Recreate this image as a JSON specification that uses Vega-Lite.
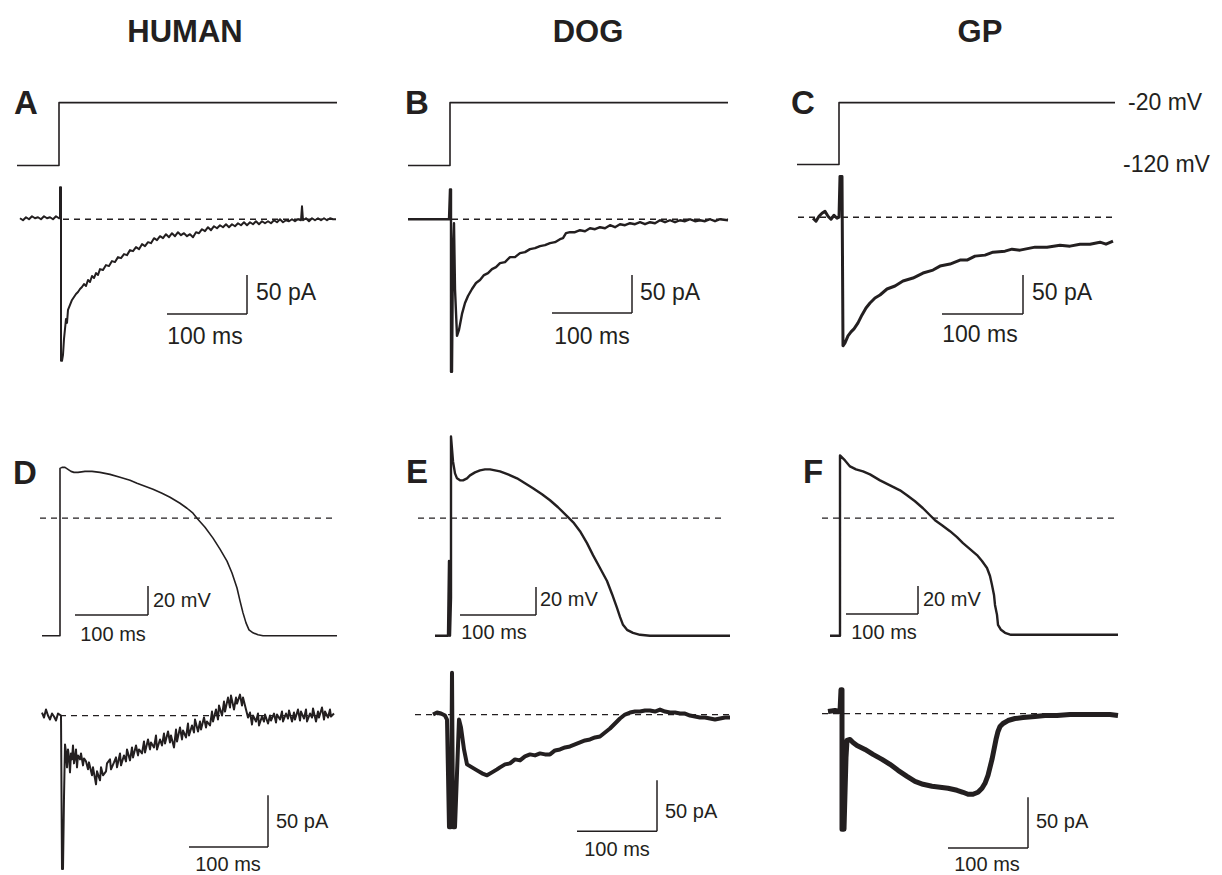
{
"$schema": "https://vega.github.io/schema/vega-lite/v6.json",
"width": 1222, "height": 875,
"autosize": {"type": "fit", "contains": "padding"},
"padding": 0,
"background": "white",
"config": {"view": {"stroke": null}, "text": {"font": "Liberation Sans", "color": "#231f20"}},
"datasets": {
"traces": [
{"trace":"A_V","x":17,"y":166},{"trace":"A_V","x":59,"y":166},{"trace":"A_V","x":59,"y":103},{"trace":"A_V","x":337,"y":103},
{"trace":"B_V","x":408,"y":166},{"trace":"B_V","x":450,"y":166},{"trace":"B_V","x":450,"y":103},{"trace":"B_V","x":728,"y":103},
{"trace":"C_V","x":797,"y":165},{"trace":"C_V","x":839,"y":165},{"trace":"C_V","x":839,"y":103},{"trace":"C_V","x":1115,"y":103},

{"trace":"A_I","x":20,"y":219},{"trace":"A_I","x":23,"y":221},{"trace":"A_I","x":26,"y":218},{"trace":"A_I","x":29,"y":220},{"trace":"A_I","x":32,"y":217},{"trace":"A_I","x":35,"y":219},{"trace":"A_I","x":38,"y":218},{"trace":"A_I","x":41,"y":220},{"trace":"A_I","x":44,"y":217},{"trace":"A_I","x":47,"y":219},{"trace":"A_I","x":50,"y":218},{"trace":"A_I","x":53,"y":220},{"trace":"A_I","x":56,"y":217},{"trace":"A_I","x":59,"y":219},
{"trace":"A_I","x":60,"y":219},{"trace":"A_I","x":60,"y":188},{"trace":"A_I","x":61,"y":188},{"trace":"A_I","x":61,"y":362},{"trace":"A_I","x":62,"y":362},{"trace":"A_I","x":63,"y":356},{"trace":"A_I","x":64,"y":340},{"trace":"A_I","x":65,"y":330},{"trace":"A_I","x":66,"y":320},{"trace":"A_I","x":67,"y":324},{"trace":"A_I","x":68,"y":311},
{"trace":"A_I","x":70,"y":306},{"trace":"A_I","x":72,"y":301},{"trace":"A_I","x":74,"y":298},{"trace":"A_I","x":76,"y":295},{"trace":"A_I","x":78,"y":293},{"trace":"A_I","x":80,"y":290},{"trace":"A_I","x":82,"y":288},{"trace":"A_I","x":84,"y":285},{"trace":"A_I","x":86,"y":287},{"trace":"A_I","x":88,"y":281},{"trace":"A_I","x":90,"y":283},{"trace":"A_I","x":92,"y":277},{"trace":"A_I","x":94,"y":279},{"trace":"A_I","x":96,"y":274},{"trace":"A_I","x":98,"y":276},{"trace":"A_I","x":100,"y":270},{"trace":"A_I","x":103,"y":271},{"trace":"A_I","x":106,"y":266},{"trace":"A_I","x":109,"y":267},{"trace":"A_I","x":112,"y":262},{"trace":"A_I","x":115,"y":263},{"trace":"A_I","x":118,"y":258},{"trace":"A_I","x":121,"y":259},{"trace":"A_I","x":124,"y":255},{"trace":"A_I","x":127,"y":256},{"trace":"A_I","x":130,"y":251},{"trace":"A_I","x":133,"y":252},{"trace":"A_I","x":136,"y":248},{"trace":"A_I","x":139,"y":250},{"trace":"A_I","x":142,"y":245},{"trace":"A_I","x":145,"y":247},{"trace":"A_I","x":148,"y":243},{"trace":"A_I","x":151,"y":244},{"trace":"A_I","x":154,"y":239},{"trace":"A_I","x":157,"y":241},{"trace":"A_I","x":160,"y":237},{"trace":"A_I","x":163,"y":239},{"trace":"A_I","x":166,"y":235},{"trace":"A_I","x":169,"y":238},{"trace":"A_I","x":172,"y":234},{"trace":"A_I","x":175,"y":237},{"trace":"A_I","x":178,"y":233},{"trace":"A_I","x":181,"y":236},{"trace":"A_I","x":184,"y":234},{"trace":"A_I","x":187,"y":237},{"trace":"A_I","x":190,"y":235},{"trace":"A_I","x":193,"y":238},{"trace":"A_I","x":196,"y":233},{"trace":"A_I","x":199,"y":234},{"trace":"A_I","x":202,"y":230},{"trace":"A_I","x":205,"y":232},{"trace":"A_I","x":208,"y":228},{"trace":"A_I","x":211,"y":231},{"trace":"A_I","x":214,"y":227},{"trace":"A_I","x":217,"y":229},{"trace":"A_I","x":220,"y":226},{"trace":"A_I","x":223,"y":228},{"trace":"A_I","x":226,"y":225},{"trace":"A_I","x":229,"y":228},{"trace":"A_I","x":232,"y":225},{"trace":"A_I","x":235,"y":227},{"trace":"A_I","x":238,"y":224},{"trace":"A_I","x":241,"y":226},{"trace":"A_I","x":244,"y":223},{"trace":"A_I","x":247,"y":226},{"trace":"A_I","x":250,"y":223},{"trace":"A_I","x":253,"y":225},{"trace":"A_I","x":256,"y":222},{"trace":"A_I","x":259,"y":225},{"trace":"A_I","x":262,"y":222},{"trace":"A_I","x":265,"y":224},{"trace":"A_I","x":268,"y":222},{"trace":"A_I","x":271,"y":224},{"trace":"A_I","x":274,"y":221},{"trace":"A_I","x":277,"y":223},{"trace":"A_I","x":280,"y":220},{"trace":"A_I","x":283,"y":223},{"trace":"A_I","x":286,"y":221},{"trace":"A_I","x":289,"y":222},{"trace":"A_I","x":292,"y":220},{"trace":"A_I","x":295,"y":222},{"trace":"A_I","x":298,"y":220},{"trace":"A_I","x":301,"y":221},{"trace":"A_I","x":302,"y":207},{"trace":"A_I","x":303,"y":221},{"trace":"A_I","x":306,"y":219},{"trace":"A_I","x":309,"y":222},{"trace":"A_I","x":312,"y":219},{"trace":"A_I","x":315,"y":221},{"trace":"A_I","x":318,"y":219},{"trace":"A_I","x":321,"y":221},{"trace":"A_I","x":324,"y":219},{"trace":"A_I","x":327,"y":221},{"trace":"A_I","x":330,"y":219},{"trace":"A_I","x":333,"y":220},{"trace":"A_I","x":336,"y":220},

{"trace":"B_I","x":408,"y":220},{"trace":"B_I","x":449,"y":220},{"trace":"B_I","x":450,"y":190},{"trace":"B_I","x":451,"y":190},{"trace":"B_I","x":451,"y":373},{"trace":"B_I","x":452,"y":373},{"trace":"B_I","x":453,"y":250},{"trace":"B_I","x":454,"y":224},{"trace":"B_I","x":455,"y":290},{"trace":"B_I","x":457,"y":337},{"trace":"B_I","x":459,"y":331},{"trace":"B_I","x":462,"y":315},{"trace":"B_I","x":465,"y":304},{"trace":"B_I","x":468,"y":297},{"trace":"B_I","x":472,"y":290},{"trace":"B_I","x":476,"y":284},{"trace":"B_I","x":480,"y":281},{"trace":"B_I","x":484,"y":276},{"trace":"B_I","x":488,"y":274},{"trace":"B_I","x":492,"y":270},{"trace":"B_I","x":496,"y":268},{"trace":"B_I","x":500,"y":264},{"trace":"B_I","x":505,"y":263},{"trace":"B_I","x":510,"y":258},{"trace":"B_I","x":515,"y":258},{"trace":"B_I","x":520,"y":254},{"trace":"B_I","x":525,"y":253},{"trace":"B_I","x":530,"y":250},{"trace":"B_I","x":535,"y":249},{"trace":"B_I","x":540,"y":247},{"trace":"B_I","x":545,"y":246},{"trace":"B_I","x":550,"y":244},{"trace":"B_I","x":555,"y":243},{"trace":"B_I","x":560,"y":240},{"trace":"B_I","x":563,"y":239},{"trace":"B_I","x":566,"y":234},{"trace":"B_I","x":570,"y":233},{"trace":"B_I","x":575,"y":233},{"trace":"B_I","x":580,"y":231},{"trace":"B_I","x":585,"y":232},{"trace":"B_I","x":590,"y":229},{"trace":"B_I","x":595,"y":230},{"trace":"B_I","x":600,"y":228},{"trace":"B_I","x":605,"y":229},{"trace":"B_I","x":610,"y":226},{"trace":"B_I","x":615,"y":228},{"trace":"B_I","x":620,"y":225},{"trace":"B_I","x":625,"y":226},{"trace":"B_I","x":630,"y":224},{"trace":"B_I","x":635,"y":225},{"trace":"B_I","x":640,"y":223},{"trace":"B_I","x":645,"y":225},{"trace":"B_I","x":650,"y":223},{"trace":"B_I","x":655,"y":224},{"trace":"B_I","x":660,"y":221},{"trace":"B_I","x":665,"y":223},{"trace":"B_I","x":670,"y":221},{"trace":"B_I","x":675,"y":223},{"trace":"B_I","x":680,"y":221},{"trace":"B_I","x":685,"y":222},{"trace":"B_I","x":690,"y":220},{"trace":"B_I","x":695,"y":222},{"trace":"B_I","x":700,"y":221},{"trace":"B_I","x":705,"y":222},{"trace":"B_I","x":710,"y":220},{"trace":"B_I","x":715,"y":222},{"trace":"B_I","x":720,"y":220},{"trace":"B_I","x":728,"y":221},

{"trace":"C_I","x":813,"y":219},{"trace":"C_I","x":816,"y":222},{"trace":"C_I","x":819,"y":217},{"trace":"C_I","x":822,"y":214},{"trace":"C_I","x":825,"y":212},{"trace":"C_I","x":828,"y":217},{"trace":"C_I","x":831,"y":220},{"trace":"C_I","x":834,"y":216},{"trace":"C_I","x":837,"y":219},{"trace":"C_I","x":839,"y":218},{"trace":"C_I","x":840,"y":177},{"trace":"C_I","x":842,"y":177},{"trace":"C_I","x":843,"y":347},{"trace":"C_I","x":845,"y":344},{"trace":"C_I","x":848,"y":337},{"trace":"C_I","x":851,"y":333},{"trace":"C_I","x":854,"y":330},{"trace":"C_I","x":858,"y":324},{"trace":"C_I","x":862,"y":316},{"trace":"C_I","x":866,"y":309},{"trace":"C_I","x":870,"y":304},{"trace":"C_I","x":875,"y":299},{"trace":"C_I","x":880,"y":296},{"trace":"C_I","x":887,"y":290},{"trace":"C_I","x":895,"y":287},{"trace":"C_I","x":903,"y":282},{"trace":"C_I","x":913,"y":279},{"trace":"C_I","x":923,"y":274},{"trace":"C_I","x":933,"y":271},{"trace":"C_I","x":940,"y":267},{"trace":"C_I","x":950,"y":265},{"trace":"C_I","x":960,"y":261},{"trace":"C_I","x":967,"y":261},{"trace":"C_I","x":975,"y":257},{"trace":"C_I","x":985,"y":256},{"trace":"C_I","x":993,"y":253},{"trace":"C_I","x":1005,"y":252},{"trace":"C_I","x":1012,"y":250},{"trace":"C_I","x":1020,"y":251},{"trace":"C_I","x":1035,"y":248},{"trace":"C_I","x":1047,"y":248},{"trace":"C_I","x":1060,"y":246},{"trace":"C_I","x":1070,"y":247},{"trace":"C_I","x":1080,"y":245},{"trace":"C_I","x":1090,"y":245},{"trace":"C_I","x":1100,"y":243},{"trace":"C_I","x":1106,"y":245},{"trace":"C_I","x":1113,"y":242},

{"trace":"D_V","x":42,"y":638},{"trace":"D_V","x":60,"y":638},{"trace":"D_V","x":60,"y":470},{"trace":"D_V","x":62,"y":469},{"trace":"D_V","x":65,"y":469},{"trace":"D_V","x":68,"y":471},{"trace":"D_V","x":71,"y":473},{"trace":"D_V","x":74,"y":474},{"trace":"D_V","x":78,"y":474},{"trace":"D_V","x":85,"y":473},{"trace":"D_V","x":92,"y":473},{"trace":"D_V","x":100,"y":474},{"trace":"D_V","x":110,"y":476},{"trace":"D_V","x":120,"y":479},{"trace":"D_V","x":130,"y":482},{"trace":"D_V","x":137,"y":485},{"trace":"D_V","x":145,"y":488},{"trace":"D_V","x":153,"y":491},{"trace":"D_V","x":162,"y":495},{"trace":"D_V","x":170,"y":499},{"trace":"D_V","x":180,"y":505},{"trace":"D_V","x":187,"y":510},{"trace":"D_V","x":193,"y":515},{"trace":"D_V","x":197,"y":520},{"trace":"D_V","x":205,"y":529},{"trace":"D_V","x":213,"y":540},{"trace":"D_V","x":220,"y":551},{"trace":"D_V","x":227,"y":563},{"trace":"D_V","x":232,"y":575},{"trace":"D_V","x":237,"y":590},{"trace":"D_V","x":240,"y":603},{"trace":"D_V","x":243,"y":615},{"trace":"D_V","x":246,"y":625},{"trace":"D_V","x":249,"y":632},{"trace":"D_V","x":253,"y":635},{"trace":"D_V","x":258,"y":637},{"trace":"D_V","x":263,"y":638},{"trace":"D_V","x":337,"y":638},

{"trace":"E_V","x":435,"y":638},{"trace":"E_V","x":448,"y":638},{"trace":"E_V","x":449,"y":563},{"trace":"E_V","x":450,"y":638},{"trace":"E_V","x":451,"y":600},{"trace":"E_V","x":451,"y":438},{"trace":"E_V","x":453,"y":463},{"trace":"E_V","x":455,"y":475},{"trace":"E_V","x":457,"y":480},{"trace":"E_V","x":460,"y":482},{"trace":"E_V","x":463,"y":482},{"trace":"E_V","x":467,"y":480},{"trace":"E_V","x":470,"y":477},{"trace":"E_V","x":475,"y":474},{"trace":"E_V","x":480,"y":472},{"trace":"E_V","x":485,"y":471},{"trace":"E_V","x":490,"y":471},{"trace":"E_V","x":495,"y":472},{"trace":"E_V","x":500,"y":473},{"trace":"E_V","x":508,"y":476},{"trace":"E_V","x":517,"y":480},{"trace":"E_V","x":525,"y":485},{"trace":"E_V","x":533,"y":490},{"trace":"E_V","x":542,"y":496},{"trace":"E_V","x":550,"y":502},{"trace":"E_V","x":558,"y":509},{"trace":"E_V","x":567,"y":518},{"trace":"E_V","x":574,"y":525},{"trace":"E_V","x":580,"y":533},{"trace":"E_V","x":587,"y":545},{"trace":"E_V","x":593,"y":557},{"trace":"E_V","x":600,"y":570},{"trace":"E_V","x":607,"y":583},{"trace":"E_V","x":612,"y":596},{"trace":"E_V","x":617,"y":610},{"trace":"E_V","x":620,"y":619},{"trace":"E_V","x":623,"y":627},{"trace":"E_V","x":627,"y":632},{"trace":"E_V","x":633,"y":635},{"trace":"E_V","x":640,"y":637},{"trace":"E_V","x":650,"y":638},{"trace":"E_V","x":730,"y":638},

{"trace":"F_V","x":830,"y":638},{"trace":"F_V","x":840,"y":638},{"trace":"F_V","x":840,"y":457},{"trace":"F_V","x":845,"y":462},{"trace":"F_V","x":850,"y":468},{"trace":"F_V","x":856,"y":471},{"trace":"F_V","x":863,"y":473},{"trace":"F_V","x":870,"y":476},{"trace":"F_V","x":880,"y":482},{"trace":"F_V","x":890,"y":487},{"trace":"F_V","x":900,"y":492},{"trace":"F_V","x":907,"y":497},{"trace":"F_V","x":915,"y":503},{"trace":"F_V","x":923,"y":510},{"trace":"F_V","x":930,"y":517},{"trace":"F_V","x":935,"y":522},{"trace":"F_V","x":942,"y":527},{"trace":"F_V","x":950,"y":533},{"trace":"F_V","x":957,"y":539},{"trace":"F_V","x":963,"y":545},{"trace":"F_V","x":970,"y":551},{"trace":"F_V","x":977,"y":557},{"trace":"F_V","x":982,"y":563},{"trace":"F_V","x":987,"y":570},{"trace":"F_V","x":990,"y":578},{"trace":"F_V","x":992,"y":587},{"trace":"F_V","x":994,"y":597},{"trace":"F_V","x":995,"y":607},{"trace":"F_V","x":997,"y":617},{"trace":"F_V","x":998,"y":627},{"trace":"F_V","x":1001,"y":632},{"trace":"F_V","x":1005,"y":635},{"trace":"F_V","x":1011,"y":637},{"trace":"F_V","x":1118,"y":637},

{"trace":"D_I","x":42,"y":715},{"trace":"D_I","x":44,"y":720},{"trace":"D_I","x":46,"y":712},{"trace":"D_I","x":48,"y":718},{"trace":"D_I","x":50,"y":722},{"trace":"D_I","x":52,"y":716},{"trace":"D_I","x":54,"y":719},{"trace":"D_I","x":56,"y":723},{"trace":"D_I","x":58,"y":716},{"trace":"D_I","x":61,"y":718},{"trace":"D_I","x":62,"y":872},{"trace":"D_I","x":63,"y":872},{"trace":"D_I","x":64,"y":800},{"trace":"D_I","x":65,"y":747},{"trace":"D_I","x":66,"y":755},{"trace":"D_I","x":67,"y":770},{"trace":"D_I","x":68,"y":752},{"trace":"D_I","x":69,"y":760},{"trace":"D_I","x":70,"y":775},{"trace":"D_I","x":71,"y":756},{"trace":"D_I","x":72,"y":762},{"trace":"D_I","x":73,"y":748},{"trace":"D_I","x":74,"y":766},{"trace":"D_I","x":75,"y":760},{"trace":"D_I","x":76,"y":752},{"trace":"D_I","x":77,"y":770},{"trace":"D_I","x":78,"y":758},{"trace":"D_I","x":80,"y":762},{"trace":"D_I","x":81,"y":756},{"trace":"D_I","x":83,"y":768},{"trace":"D_I","x":84,"y":761},{"trace":"D_I","x":86,"y":764},{"trace":"D_I","x":88,"y":772},{"trace":"D_I","x":89,"y":765},{"trace":"D_I","x":92,"y":778},{"trace":"D_I","x":93,"y":770},{"trace":"D_I","x":96,"y":787},{"trace":"D_I","x":97,"y":774},{"trace":"D_I","x":100,"y":783},{"trace":"D_I","x":101,"y":770},{"trace":"D_I","x":103,"y":778},{"trace":"D_I","x":106,"y":774},{"trace":"D_I","x":107,"y":766},{"trace":"D_I","x":110,"y":762},{"trace":"D_I","x":111,"y":772},{"trace":"D_I","x":114,"y":765},{"trace":"D_I","x":116,"y":760},{"trace":"D_I","x":117,"y":770},{"trace":"D_I","x":120,"y":756},{"trace":"D_I","x":121,"y":768},{"trace":"D_I","x":124,"y":758},{"trace":"D_I","x":126,"y":764},{"trace":"D_I","x":127,"y":752},{"trace":"D_I","x":130,"y":763},{"trace":"D_I","x":132,"y":750},{"trace":"D_I","x":133,"y":760},{"trace":"D_I","x":136,"y":748},{"trace":"D_I","x":138,"y":758},{"trace":"D_I","x":139,"y":752},{"trace":"D_I","x":142,"y":756},{"trace":"D_I","x":144,"y":744},{"trace":"D_I","x":145,"y":755},{"trace":"D_I","x":148,"y":742},{"trace":"D_I","x":150,"y":752},{"trace":"D_I","x":151,"y":745},{"trace":"D_I","x":154,"y":750},{"trace":"D_I","x":156,"y":738},{"trace":"D_I","x":157,"y":752},{"trace":"D_I","x":160,"y":742},{"trace":"D_I","x":162,"y":748},{"trace":"D_I","x":164,"y":736},{"trace":"D_I","x":165,"y":746},{"trace":"D_I","x":168,"y":734},{"trace":"D_I","x":170,"y":745},{"trace":"D_I","x":171,"y":738},{"trace":"D_I","x":174,"y":750},{"trace":"D_I","x":176,"y":732},{"trace":"D_I","x":177,"y":744},{"trace":"D_I","x":180,"y":730},{"trace":"D_I","x":182,"y":742},{"trace":"D_I","x":183,"y":733},{"trace":"D_I","x":186,"y":740},{"trace":"D_I","x":188,"y":726},{"trace":"D_I","x":189,"y":738},{"trace":"D_I","x":192,"y":728},{"trace":"D_I","x":194,"y":735},{"trace":"D_I","x":195,"y":722},{"trace":"D_I","x":198,"y":734},{"trace":"D_I","x":200,"y":724},{"trace":"D_I","x":201,"y":732},{"trace":"D_I","x":204,"y":720},{"trace":"D_I","x":206,"y":730},{"trace":"D_I","x":207,"y":724},{"trace":"D_I","x":210,"y":728},{"trace":"D_I","x":212,"y":714},{"trace":"D_I","x":213,"y":724},{"trace":"D_I","x":216,"y":712},{"trace":"D_I","x":218,"y":722},{"trace":"D_I","x":219,"y":708},{"trace":"D_I","x":222,"y":718},{"trace":"D_I","x":224,"y":704},{"trace":"D_I","x":225,"y":714},{"trace":"D_I","x":228,"y":700},{"trace":"D_I","x":230,"y":710},{"trace":"D_I","x":231,"y":698},{"trace":"D_I","x":234,"y":712},{"trace":"D_I","x":236,"y":700},{"trace":"D_I","x":237,"y":706},{"trace":"D_I","x":240,"y":697},{"trace":"D_I","x":242,"y":708},{"trace":"D_I","x":243,"y":700},{"trace":"D_I","x":246,"y":712},{"trace":"D_I","x":248,"y":720},{"trace":"D_I","x":250,"y":715},{"trace":"D_I","x":252,"y":727},{"trace":"D_I","x":253,"y":718},{"trace":"D_I","x":256,"y":724},{"trace":"D_I","x":258,"y":716},{"trace":"D_I","x":259,"y":728},{"trace":"D_I","x":262,"y":719},{"trace":"D_I","x":264,"y":724},{"trace":"D_I","x":265,"y":717},{"trace":"D_I","x":268,"y":726},{"trace":"D_I","x":270,"y":718},{"trace":"D_I","x":271,"y":723},{"trace":"D_I","x":274,"y":716},{"trace":"D_I","x":276,"y":725},{"trace":"D_I","x":277,"y":717},{"trace":"D_I","x":280,"y":722},{"trace":"D_I","x":282,"y":714},{"trace":"D_I","x":283,"y":724},{"trace":"D_I","x":286,"y":716},{"trace":"D_I","x":288,"y":721},{"trace":"D_I","x":289,"y":713},{"trace":"D_I","x":292,"y":724},{"trace":"D_I","x":294,"y":715},{"trace":"D_I","x":295,"y":722},{"trace":"D_I","x":298,"y":712},{"trace":"D_I","x":300,"y":723},{"trace":"D_I","x":301,"y":714},{"trace":"D_I","x":304,"y":721},{"trace":"D_I","x":306,"y":712},{"trace":"D_I","x":307,"y":724},{"trace":"D_I","x":310,"y":716},{"trace":"D_I","x":312,"y":720},{"trace":"D_I","x":313,"y":711},{"trace":"D_I","x":316,"y":724},{"trace":"D_I","x":318,"y":714},{"trace":"D_I","x":319,"y":720},{"trace":"D_I","x":322,"y":710},{"trace":"D_I","x":324,"y":722},{"trace":"D_I","x":325,"y":714},{"trace":"D_I","x":328,"y":720},{"trace":"D_I","x":330,"y":712},{"trace":"D_I","x":331,"y":719},{"trace":"D_I","x":334,"y":716},

{"trace":"E_I","x":433,"y":717},{"trace":"E_I","x":437,"y":715},{"trace":"E_I","x":441,"y":716},{"trace":"E_I","x":445,"y":718},{"trace":"E_I","x":447,"y":722},{"trace":"E_I","x":449,"y":830},{"trace":"E_I","x":451,"y":830},{"trace":"E_I","x":452,"y":675},{"trace":"E_I","x":453,"y":830},{"trace":"E_I","x":455,"y":830},{"trace":"E_I","x":459,"y":722},{"trace":"E_I","x":461,"y":730},{"trace":"E_I","x":464,"y":752},{"trace":"E_I","x":467,"y":767},{"trace":"E_I","x":472,"y":770},{"trace":"E_I","x":477,"y":773},{"trace":"E_I","x":482,"y":776},{"trace":"E_I","x":487,"y":778},{"trace":"E_I","x":492,"y":775},{"trace":"E_I","x":497,"y":772},{"trace":"E_I","x":500,"y":770},{"trace":"E_I","x":505,"y":767},{"trace":"E_I","x":510,"y":766},{"trace":"E_I","x":515,"y":762},{"trace":"E_I","x":520,"y":763},{"trace":"E_I","x":525,"y":759},{"trace":"E_I","x":530,"y":757},{"trace":"E_I","x":535,"y":758},{"trace":"E_I","x":540,"y":756},{"trace":"E_I","x":545,"y":757},{"trace":"E_I","x":550,"y":757},{"trace":"E_I","x":555,"y":753},{"trace":"E_I","x":560,"y":752},{"trace":"E_I","x":565,"y":750},{"trace":"E_I","x":570,"y":749},{"trace":"E_I","x":575,"y":747},{"trace":"E_I","x":580,"y":745},{"trace":"E_I","x":585,"y":743},{"trace":"E_I","x":590,"y":742},{"trace":"E_I","x":595,"y":740},{"trace":"E_I","x":600,"y":739},{"trace":"E_I","x":605,"y":735},{"trace":"E_I","x":610,"y":731},{"trace":"E_I","x":615,"y":726},{"trace":"E_I","x":620,"y":721},{"trace":"E_I","x":625,"y":717},{"trace":"E_I","x":630,"y":715},{"trace":"E_I","x":635,"y":714},{"trace":"E_I","x":640,"y":714},{"trace":"E_I","x":645,"y":713},{"trace":"E_I","x":650,"y":713},{"trace":"E_I","x":655,"y":714},{"trace":"E_I","x":660,"y":712},{"trace":"E_I","x":665,"y":714},{"trace":"E_I","x":670,"y":715},{"trace":"E_I","x":675,"y":715},{"trace":"E_I","x":680,"y":716},{"trace":"E_I","x":685,"y":716},{"trace":"E_I","x":690,"y":718},{"trace":"E_I","x":695,"y":719},{"trace":"E_I","x":700,"y":720},{"trace":"E_I","x":705,"y":720},{"trace":"E_I","x":710,"y":721},{"trace":"E_I","x":715,"y":722},{"trace":"E_I","x":720,"y":721},{"trace":"E_I","x":725,"y":720},{"trace":"E_I","x":730,"y":720},

{"trace":"F_I","x":828,"y":714},{"trace":"F_I","x":835,"y":713},{"trace":"F_I","x":840,"y":714},{"trace":"F_I","x":841,"y":692},{"trace":"F_I","x":842,"y":692},{"trace":"F_I","x":842,"y":832},{"trace":"F_I","x":844,"y":832},{"trace":"F_I","x":846,"y":760},{"trace":"F_I","x":847,"y":743},{"trace":"F_I","x":850,"y":742},{"trace":"F_I","x":853,"y":745},{"trace":"F_I","x":857,"y":748},{"trace":"F_I","x":865,"y":752},{"trace":"F_I","x":873,"y":757},{"trace":"F_I","x":882,"y":762},{"trace":"F_I","x":890,"y":767},{"trace":"F_I","x":898,"y":773},{"trace":"F_I","x":907,"y":779},{"trace":"F_I","x":915,"y":784},{"trace":"F_I","x":923,"y":787},{"trace":"F_I","x":932,"y":789},{"trace":"F_I","x":940,"y":790},{"trace":"F_I","x":948,"y":791},{"trace":"F_I","x":957,"y":793},{"trace":"F_I","x":963,"y":795},{"trace":"F_I","x":968,"y":797},{"trace":"F_I","x":973,"y":797},{"trace":"F_I","x":978,"y":795},{"trace":"F_I","x":982,"y":791},{"trace":"F_I","x":985,"y":786},{"trace":"F_I","x":988,"y":778},{"trace":"F_I","x":990,"y":770},{"trace":"F_I","x":992,"y":762},{"trace":"F_I","x":994,"y":752},{"trace":"F_I","x":996,"y":742},{"trace":"F_I","x":998,"y":734},{"trace":"F_I","x":1000,"y":729},{"trace":"F_I","x":1003,"y":726},{"trace":"F_I","x":1008,"y":723},{"trace":"F_I","x":1015,"y":721},{"trace":"F_I","x":1023,"y":720},{"trace":"F_I","x":1035,"y":719},{"trace":"F_I","x":1045,"y":718},{"trace":"F_I","x":1057,"y":718},{"trace":"F_I","x":1070,"y":717},{"trace":"F_I","x":1080,"y":717},{"trace":"F_I","x":1090,"y":717},{"trace":"F_I","x":1100,"y":717},{"trace":"F_I","x":1110,"y":717},{"trace":"F_I","x":1118,"y":718}
],
"dashes": [
{"x":63,"x2":335,"y":220},{"x":408,"x2":728,"y":220},{"x":798,"x2":1113,"y":218},
{"x":40,"x2":333,"y":520},{"x":418,"x2":723,"y":520},{"x":822,"x2":1115,"y":520},
{"x":60,"x2":333,"y":718},{"x":415,"x2":730,"y":717},{"x":822,"x2":1118,"y":716}
],
"bars": [
{"x":247,"y":276,"x2":247,"y2":315},{"x":167,"y":315,"x2":247,"y2":315},
{"x":632,"y":276,"x2":632,"y2":314},{"x":552,"y":314,"x2":632,"y2":314},
{"x":1023,"y":276,"x2":1023,"y2":315},{"x":942,"y":315,"x2":1023,"y2":315},
{"x":148,"y":588,"x2":148,"y2":617},{"x":75,"y":617,"x2":148,"y2":617},
{"x":536,"y":589,"x2":536,"y2":617},{"x":460,"y":617,"x2":536,"y2":617},
{"x":918,"y":588,"x2":918,"y2":616},{"x":846,"y":616,"x2":918,"y2":616},
{"x":268,"y":798,"x2":268,"y2":850},{"x":189,"y":850,"x2":268,"y2":850},
{"x":657,"y":783,"x2":657,"y2":834},{"x":577,"y":834,"x2":657,"y2":834},
{"x":1028,"y":800,"x2":1028,"y2":851},{"x":948,"y":851,"x2":1028,"y2":851}
],
"labels": [
{"kind":"title","text":"HUMAN","x":185,"y":33},{"kind":"title","text":"DOG","x":588,"y":33},{"kind":"title","text":"GP","x":980,"y":33},
{"kind":"panel","text":"A","x":26,"y":104},{"kind":"panel","text":"B","x":417,"y":104},{"kind":"panel","text":"C","x":803,"y":104},
{"kind":"panel","text":"D","x":25,"y":476},{"kind":"panel","text":"E","x":417,"y":475},{"kind":"panel","text":"F","x":813,"y":475},
{"kind":"bigL","text":"50 pA","x":256,"y":294},{"kind":"bigL","text":"50 pA","x":640,"y":294},{"kind":"bigL","text":"50 pA","x":1032,"y":294},
{"kind":"bigC","text":"100 ms","x":205,"y":338},{"kind":"bigC","text":"100 ms","x":592,"y":338},{"kind":"bigC","text":"100 ms","x":980,"y":336},
{"kind":"bigL","text":"-20 mV","x":1128,"y":103},{"kind":"bigL","text":"-120 mV","x":1123,"y":166},
{"kind":"smallL","text":"20 mV","x":153,"y":603},{"kind":"smallL","text":"20 mV","x":540,"y":602},{"kind":"smallL","text":"20 mV","x":923,"y":602},
{"kind":"smallC","text":"100 ms","x":113,"y":637},{"kind":"smallC","text":"100 ms","x":494,"y":635},{"kind":"smallC","text":"100 ms","x":884,"y":635},
{"kind":"smallL","text":"50 pA","x":276,"y":825},{"kind":"smallL","text":"50 pA","x":665,"y":815},{"kind":"smallL","text":"50 pA","x":1036,"y":825},
{"kind":"smallC","text":"100 ms","x":228,"y":868},{"kind":"smallC","text":"100 ms","x":617,"y":853},{"kind":"smallC","text":"100 ms","x":987,"y":868}
]
},
"encoding": {
"x": {"field": "x", "type": "quantitative", "scale": {"domain": [0, 1222], "nice": false, "zero": false}, "axis": null},
"y": {"field": "y", "type": "quantitative", "scale": {"domain": [875, 0], "nice": false, "zero": false}, "axis": null}
},
"layer": [
{"data": {"name": "dashes"}, "mark": {"type": "rule", "color": "#231f20", "strokeWidth": 1.3, "strokeDash": [6, 5]},
 "encoding": {"x2": {"field": "x2"}}},
{"data": {"name": "bars"}, "mark": {"type": "rule", "color": "#231f20", "strokeWidth": 1.5},
 "encoding": {"x2": {"field": "x2"}, "y2": {"field": "y2"}}},
{"data": {"name": "traces"}, "transform": [{"filter": {"field": "trace", "oneOf": ["A_V","B_V","C_V","D_V"]}}],
 "mark": {"type": "line", "color": "#231f20", "strokeWidth": 1.6, "strokeJoin": "round"},
 "encoding": {"detail": {"field": "trace", "type": "nominal"}, "order": {"value": null}}},
{"data": {"name": "traces"}, "transform": [{"filter": {"field": "trace", "oneOf": ["A_I","D_I"]}}],
 "mark": {"type": "line", "color": "#231f20", "strokeWidth": 2, "strokeJoin": "round"},
 "encoding": {"detail": {"field": "trace", "type": "nominal"}, "order": {"value": null}}},
{"data": {"name": "traces"}, "transform": [{"filter": {"field": "trace", "oneOf": ["B_I","E_V","F_V"]}}],
 "mark": {"type": "line", "color": "#231f20", "strokeWidth": 2.4, "strokeJoin": "round"},
 "encoding": {"detail": {"field": "trace", "type": "nominal"}, "order": {"value": null}}},
{"data": {"name": "traces"}, "transform": [{"filter": {"field": "trace", "oneOf": ["C_I"]}}],
 "mark": {"type": "line", "color": "#231f20", "strokeWidth": 3, "strokeJoin": "round"},
 "encoding": {"detail": {"field": "trace", "type": "nominal"}, "order": {"value": null}}},
{"data": {"name": "traces"}, "transform": [{"filter": {"field": "trace", "oneOf": ["E_I"]}}],
 "mark": {"type": "line", "color": "#231f20", "strokeWidth": 4, "strokeJoin": "round"},
 "encoding": {"detail": {"field": "trace", "type": "nominal"}, "order": {"value": null}}},
{"data": {"name": "traces"}, "transform": [{"filter": {"field": "trace", "oneOf": ["F_I"]}}],
 "mark": {"type": "line", "color": "#231f20", "strokeWidth": 5, "strokeJoin": "round"},
 "encoding": {"detail": {"field": "trace", "type": "nominal"}, "order": {"value": null}}},
{"data": {"name": "labels"}, "transform": [{"filter": "datum.kind == 'title'"}],
 "mark": {"type": "text", "fontSize": 31, "fontWeight": "bold", "align": "center", "baseline": "middle"},
 "encoding": {"text": {"field": "text"}}},
{"data": {"name": "labels"}, "transform": [{"filter": "datum.kind == 'panel'"}],
 "mark": {"type": "text", "fontSize": 33, "fontWeight": "bold", "align": "center", "baseline": "middle"},
 "encoding": {"text": {"field": "text"}}},
{"data": {"name": "labels"}, "transform": [{"filter": "datum.kind == 'bigL'"}],
 "mark": {"type": "text", "fontSize": 23, "align": "left", "baseline": "middle"},
 "encoding": {"text": {"field": "text"}}},
{"data": {"name": "labels"}, "transform": [{"filter": "datum.kind == 'bigC'"}],
 "mark": {"type": "text", "fontSize": 23, "align": "center", "baseline": "middle"},
 "encoding": {"text": {"field": "text"}}},
{"data": {"name": "labels"}, "transform": [{"filter": "datum.kind == 'smallL'"}],
 "mark": {"type": "text", "fontSize": 20, "align": "left", "baseline": "middle"},
 "encoding": {"text": {"field": "text"}}},
{"data": {"name": "labels"}, "transform": [{"filter": "datum.kind == 'smallC'"}],
 "mark": {"type": "text", "fontSize": 20, "align": "center", "baseline": "middle"},
 "encoding": {"text": {"field": "text"}}}
]
}
